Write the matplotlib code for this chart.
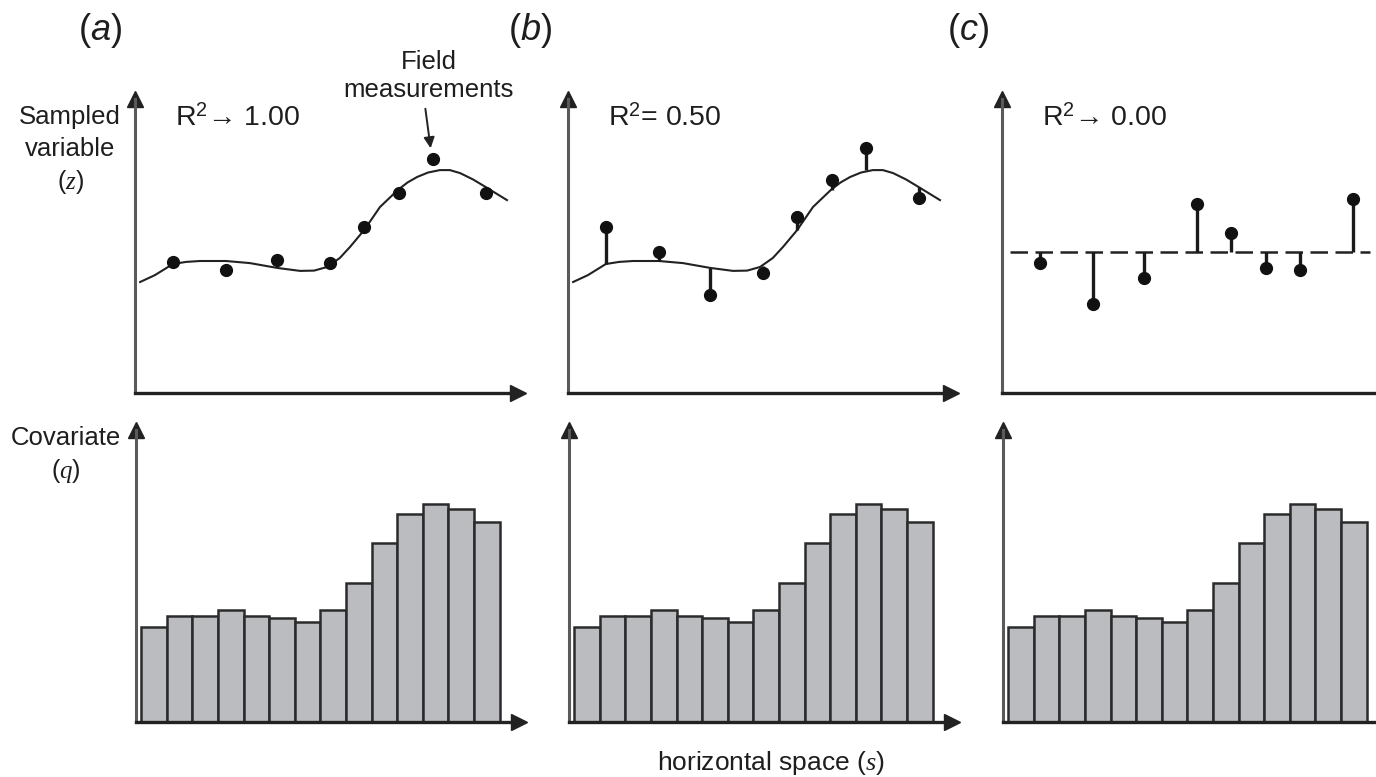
import matplotlib
matplotlib.use("Agg")
import matplotlib.pyplot as plt
import numpy as np

plt.rcParams['font.family'] = ['Liberation Sans', 'DejaVu Sans']
plt.rcParams['mathtext.fontset'] = 'custom'
plt.rcParams['mathtext.rm'] = 'Liberation Sans'
plt.rcParams['mathtext.it'] = 'Liberation Serif:italic'
plt.rcParams['mathtext.sf'] = 'Liberation Sans:italic'

# ---------------- data ----------------
panel_labels = ['a', 'b', 'c']
r2_texts = ['R$^{\\mathrm{2}}$\u2192 1.00', 'R$^{\\mathrm{2}}$= 0.50', 'R$^{\\mathrm{2}}$\u2192 0.00']

# sample locations (horizontal space)
sample_s = [1.8, 3.85, 5.85, 7.9, 9.25, 10.6, 11.95, 14.0]

# fitted trend (smooth curve) in panels a and b
trend_s = [0.5, 1.08, 1.78, 2.3, 2.84, 3.85, 4.79, 5.85, 6.75, 7.3, 7.8, 8.3, 8.7,
           9.25, 9.87, 10.57, 10.95, 11.32, 11.75, 12.21, 12.6, 13.0, 13.5,
           13.97, 14.83]
trend_z = [3.7, 3.93, 4.3, 4.37, 4.4, 4.4, 4.33, 4.17, 4.07, 4.08, 4.2, 4.5, 4.87,
           5.43, 6.2, 6.77, 7.02, 7.2, 7.35, 7.43, 7.43, 7.33, 7.12,
           6.88, 6.43]
# trend value at sample locations (for residual stems)
trend_at_samples = [4.3, 4.4, 4.17, 4.22, 5.43, 6.77, 7.43, 6.88]

z_a = [4.37, 4.1, 4.43, 4.33, 5.53, 6.67, 7.8, 6.67]
z_b = [5.53, 4.7, 3.27, 4.0, 5.87, 7.1, 8.17, 6.5]
z_c = [4.33, 2.97, 3.83, 6.3, 5.33, 4.17, 4.1, 6.47]
mean_c = 4.7

# covariate histogram
bar_s = list(range(1, 15))
q_vals = [3.17, 3.53, 3.53, 3.73, 3.53, 3.47, 3.33, 3.73, 4.63, 5.97, 6.93,
          7.27, 7.1, 6.67]

# ---------------- layout ----------------
W, H = 1376, 777
fig = plt.figure(figsize=(W / 100, H / 100), dpi=100)

TXT = '#1e1e1e'
PX_PER_UNIT_X = 25.6
PX_PER_UNIT_Y = 30.0


def px_axes(left, top, right, bottom):
    return fig.add_axes([left / W, 1 - bottom / H, (right - left) / W, (bottom - top) / H])


def style_axes(ax, left, right, top, bottom):
    ax.set_xlim(0.3, 0.3 + (right - left) / PX_PER_UNIT_X)
    ax.set_ylim(0, (bottom - top) / PX_PER_UNIT_Y)
    ax.patch.set_alpha(0)
    for sp in ['top', 'right']:
        ax.spines[sp].set_visible(False)
    ax.spines['left'].set_color('#5a5a5a')
    ax.spines['left'].set_linewidth(2.2)
    ax.spines['bottom'].set_color('#222222')
    ax.spines['bottom'].set_linewidth(2.4)
    ax.set_xticks([])
    ax.set_yticks([])
    ax.plot(1, 0, '>', color='#222222', markersize=11, transform=ax.transAxes,
            clip_on=False)
    ax.plot(0, 1, '^', color='#222222', markersize=11, transform=ax.transAxes,
            clip_on=False)


def ftext(x, y, s, **kw):
    return fig.text(x / W, 1 - y / H, s, **kw)


shifts = [0, 433, 867]
z_sets = [z_a, z_b, z_c]

for k in range(3):
    dx = shifts[k]
    # ---- top panel ----
    L, R, T, B = 135 + dx, 518 + dx, 99, 393
    ax = px_axes(L, T, R, B)
    style_axes(ax, L, R, T, B)
    z = z_sets[k]
    if k < 2:
        ax.plot(trend_s, trend_z, color='#222222', lw=1.5, zorder=2,
                solid_joinstyle='round')
        if k == 1:
            for s, zz, t in zip(sample_s, z, trend_at_samples):
                ax.plot([s, s], [t, zz], color='#1a1a1a', lw=2.4,
                        solid_capstyle='butt', zorder=3)
    else:
        ax.plot([0.61, 14.67], [mean_c, mean_c], color='#222222', lw=1.8,
                dashes=(7, 3), zorder=2)
        for s, zz in zip(sample_s, z):
            ax.plot([s, s], [mean_c, zz], color='#1a1a1a', lw=2.4,
                    solid_capstyle='butt', zorder=3)
    ax.plot(sample_s, z, 'o', color='#111111', markersize=8.5, zorder=4)

    # ---- bottom panel ----
    L2, R2, T2, B2 = 136 + dx, 519 + dx, 430, 722
    axb = px_axes(L2, T2, R2, B2)
    style_axes(axb, L2, R2, T2, B2)
    axb.bar(bar_s, q_vals, width=1.0, color='#bbbcc0', edgecolor='#2b2b2b',
            linewidth=1.8, zorder=2)

    # ---- labels ----
    ftext([100, 530, 968][k], 30, '($\\mathsf{' + panel_labels[k] + '}$)',
          fontsize=26, color=TXT, ha='center', va='center')
    ftext(175 + dx, 117, r2_texts[k], fontsize=20.5, color=TXT, ha='left',
          va='center')

# y-axis labels
ftext(70, 117, 'Sampled', fontsize=18.5, color=TXT, ha='center', va='center')
ftext(70, 149, 'variable', fontsize=18.5, color=TXT, ha='center', va='center')
ftext(70, 182, '($z$)', fontsize=18, color=TXT, ha='center', va='center')
ftext(66, 438, 'Covariate', fontsize=18.5, color=TXT, ha='center', va='center')
ftext(66, 471, '($q$)', fontsize=18, color=TXT, ha='center', va='center')

# field measurements annotation
ftext(429, 62, 'Field', fontsize=18.5, color=TXT, ha='center', va='center')
ftext(429, 90, 'measurements', fontsize=18.5, color=TXT, ha='center', va='center')
fig.add_artist(matplotlib.patches.FancyArrowPatch(
    (425 / W, 1 - 106 / H), (431 / W, 1 - 151 / H),
    transform=fig.transFigure, arrowstyle='-|>', mutation_scale=16,
    color='#222222', lw=1.4))

# x-axis label
ftext(771, 763, 'horizontal space ($s$)', fontsize=19, color=TXT,
      ha='center', va='center')

fig.savefig('out.png', dpi=100)
